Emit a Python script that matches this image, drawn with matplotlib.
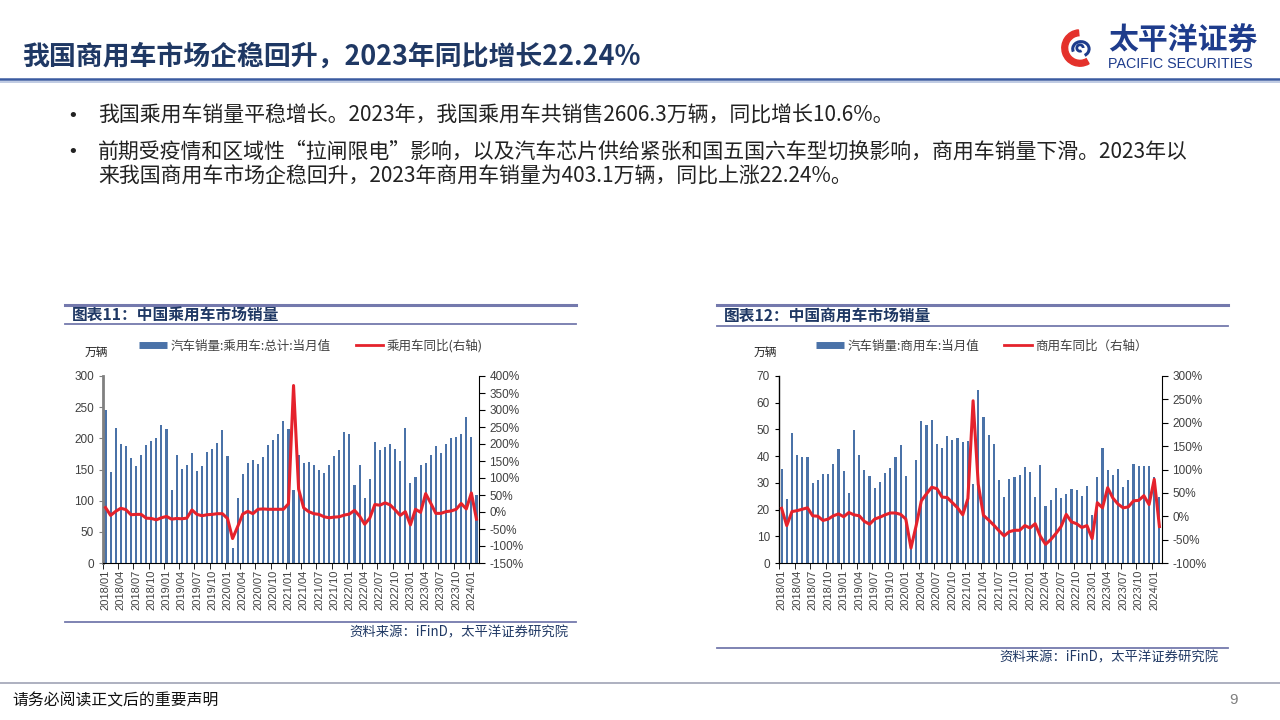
import matplotlib.pyplot as plt
from matplotlib.lines import Line2D
from matplotlib.patches import Arc, Wedge

plt.rcParams['font.family'] = ['Noto Sans CJK SC', 'DejaVu Sans']

# ---- data (万辆, 同比%) 2018/01 - 2024/02 ----
tick_labels = ['2018/01', '2018/04', '2018/07', '2018/10', '2019/01', '2019/04', '2019/07',
               '2019/10', '2020/01', '2020/04', '2020/07', '2020/10', '2021/01', '2021/04',
               '2021/07', '2021/10', '2022/01', '2022/04', '2022/07', '2022/10', '2023/01',
               '2023/04', '2023/07', '2023/10', '2024/01']

pv_sales = [245, 146.5, 216, 191, 188, 168, 155, 173, 189, 195, 201, 221,
            215, 117, 174, 151, 157, 176, 148, 156, 178, 183, 192, 213,
            172, 24, 104, 142, 160, 165, 159, 170, 190, 198, 207, 228,
            215, 117, 174, 160, 162, 157, 149, 144, 157, 171, 181, 210,
            207, 125, 157, 104, 135, 194, 181, 186, 191, 183, 164, 216,
            128, 138, 158, 161, 173, 188, 176, 191, 201, 202, 207, 235,
            202, 109]
pv_yoy = [13, -10, 2, 11, 7, -8, -7, -7, -18, -19, -23, -17,
          -13, -21, -19, -20, -18, 6, -7, -11, -8, -7, -5, -5,
          -19, -78, -43, -6, 2, -5, 8, 9, 8, 8, 8, 8,
          24, 372, 67, 12, 1, -5, -7, -14, -17, -15, -14, -9,
          -6, 5, -12, -36, -18, 22, 20, 27, 21, 6, -10, 1,
          -38, 8, -1, 54, 26, -4, -4, 1, 3, 8, 25, 9,
          56, -21]

cv_sales = [35.2, 24.0, 48.7, 40.3, 39.7, 39.7, 29.8, 31.2, 33.2, 33.2, 37.2, 42.7,
            34.5, 26.1, 49.8, 40.4, 35.0, 32.7, 28.0, 30.3, 33.8, 35.5, 39.8, 44.3,
            32.5, 5.5, 38.6, 53.2, 51.7, 53.4, 44.4, 42.9, 47.4, 46.2, 46.9, 45.3,
            45.6, 29.6, 64.9, 54.6, 47.9, 44.4, 31.1, 24.6, 31.5, 32.3, 32.8, 36.1,
            34.2, 24.8, 36.7, 21.3, 23.6, 28.0, 24.4, 25.7, 27.8, 27.2, 25.2, 28.9,
            17.9, 32.1, 43.2, 34.7, 32.8, 35.3, 28.6, 30.9, 36.9, 36.3, 36.3, 36.2,
            32.1, 24.8]
cv_yoy = [17, -20, 10, 12, 15, 18, 1, 0, -9, -6, 1, 5,
          -1, 8, 3, 1, -11, -17, -6, -2, 3, 7, 7, 4,
          -6, -68, -20, 33, 48, 62, 59, 41, 40, 29, 18, 3,
          38, 247, 68, 2, -8, -19, -31, -42, -33, -30, -30, -20,
          -25, -16, -43, -60, -50, -37, -22, 4, -12, -16, -24, -20,
          -48, 29, 18, 61, 39, 26, 18, 20, 33, 34, 44, 25,
          79, -22]

W, H = 1280, 720
BAR = '#4A72A8'
RED = '#E5222C'
NAVY = '#1F3864'
PANEL = '#7479AD'
TXT = '#404040'


def fx(x):
    return x / W


def fy(y):
    return 1 - y / H


fig = plt.figure(figsize=(12.8, 7.2), dpi=100)


def hline(x0, x1, y, color, lw):
    fig.add_artist(Line2D([fx(x0), fx(x1)], [fy(y), fy(y)], transform=fig.transFigure,
                          color=color, lw=lw))


def draw_chart(rect, sales, yoy, ylim, ystep, rlim, rstep, labels, leg_xy, unit_xy, spine_c, spine_w):
    l, t, r, b = rect
    ax = fig.add_axes([fx(l), fy(b), (r - l) / W, (b - t) / H])
    idx = list(range(len(sales)))
    ax.bar(idx, sales, width=0.42, color=BAR, zorder=2)
    ax.set_xlim(-0.5, len(sales) - 0.5)
    ax.set_ylim(ylim[0], ylim[1])
    ax.set_yticks(range(ylim[0], ylim[1] + 1, ystep))
    ax.set_xticks(range(0, 73, 3), labels=tick_labels, rotation=90)
    ax.set_xticks([i - 0.5 for i in range(0, 73, 3)], minor=True)
    ax.tick_params(axis='x', which='major', length=0, pad=5, labelsize=8, labelcolor=TXT)
    ax.tick_params(axis='x', which='minor', length=4, direction='out')
    ax.tick_params(axis='y', length=3, direction='out', labelsize=8.5, labelcolor=TXT,
                   color=spine_c)
    for lab in ax.get_xticklabels() + ax.get_yticklabels():
        lab.set_family(['Liberation Sans', 'DejaVu Sans'])
    ax.spines['top'].set_visible(False)
    ax.spines['right'].set_visible(False)
    ax.spines['left'].set_color(spine_c)
    ax.spines['left'].set_linewidth(spine_w)
    ax.spines['bottom'].set_color('black')
    ax.patch.set_alpha(0)

    ax2 = ax.twinx()
    ax2.plot(idx, yoy, color=RED, lw=2.2, solid_joinstyle='round')
    ax2.set_ylim(rlim[0], rlim[1])
    rt = list(range(rlim[0], rlim[1] + 1, rstep))
    ax2.set_yticks(rt, labels=[f'{v}%' for v in rt])
    ax2.tick_params(axis='y', length=4, direction='out', labelsize=8.5, labelcolor=TXT)
    for lab in ax2.get_yticklabels():
        lab.set_family(['Liberation Sans', 'DejaVu Sans'])
    for s in ['top', 'left', 'bottom']:
        ax2.spines[s].set_visible(False)
    ax2.spines['right'].set_color('black')

    handles = [Line2D([], [], color=BAR, lw=5, solid_capstyle='butt'),
               Line2D([], [], color=RED, lw=2)]
    fig.legend(handles, labels, loc='center', bbox_to_anchor=(fx(leg_xy[0]), fy(leg_xy[1])),
               bbox_transform=fig.transFigure, ncol=2, frameon=False, fontsize=9,
               handlelength=2.2, handletextpad=0.3, columnspacing=2.0, labelcolor=TXT)
    fig.text(fx(unit_xy[0]), fy(unit_xy[1]), '万辆', fontsize=8.5, ha='center', va='center',
             color='#222222')
    return ax, ax2


# ---- header ----
fig.text(fx(22), fy(57), '我国商用车市场企稳回升，2023年同比增长22.24%', fontsize=19.4,
         fontweight='bold', color=NAVY, ha='left', va='center')
hline(0, 1280, 79, '#3A5BA0', 1.8)
hline(0, 1280, 81.5, '#B5C2DE', 1.2)

# logo
lax = fig.add_axes([fx(1060), fy(70), 40 / W, 44 / H])
lax.set_xlim(-1.1, 1.1)
lax.set_ylim(-1.2, 1.2)
lax.set_aspect('equal')
lax.axis('off')
lax.add_patch(Wedge((0, 0), 1.0, 95, 300, width=0.32, color='#E4312B'))
lax.add_patch(Arc((0.05, -0.05), 0.9, 0.8, angle=0, theta1=-60, theta2=200, color='#1E3C8C', lw=2.2))
lax.add_patch(Arc((0.0, 0.0), 0.35, 0.35, angle=0, theta1=0, theta2=300, color='#1E3C8C', lw=2))
fig.text(fx(1108), fy(41), '太平洋证券', fontsize=21.5, fontweight='bold', color='#1E3C8C',
         ha='left', va='center')
fig.text(fx(1108), fy(64), 'PACIFIC SECURITIES', fontsize=10.3, color='#1E3C8C',
         ha='left', va='center', family=['Liberation Sans', 'DejaVu Sans'])

# bullets
body = [(116, True, '我国乘用车销量平稳增长。2023年，我国乘用车共销售2606.3万辆，同比增长10.6%。'),
        (152, True, '前期受疫情和区域性“拉闸限电”影响，以及汽车芯片供给紧张和国五国六车型切换影响，商用车销量下滑。2023年以'),
        (177, False, '来我国商用车市场企稳回升，2023年商用车销量为403.1万辆，同比上涨22.24%。')]
for y, bullet, s in body:
    if bullet:
        fig.text(fx(67), fy(y), '\u2022', fontsize=13, color='#222222', ha='left', va='center',
                 family='DejaVu Sans')
    fig.text(fx(98), fy(y), s, fontsize=15.05, color='#222222', ha='left', va='center')

# ---- panel 1 ----
hline(65, 576, 305, PANEL, 2.2)
fig.text(fx(72), fy(315), '图表11：中国乘用车市场销量', fontsize=11.3, fontweight='bold',
         color=NAVY, ha='left', va='center')
hline(65, 576, 324, PANEL, 1.3)
draw_chart((103, 376, 479, 563), pv_sales, pv_yoy, (0, 300), 50, (-150, 400), 50,
           ['汽车销量:乘用车:总计:当月值', '乘用车同比(右轴)'], (311, 346), (96, 352),
           '#808080', 2.0)
hline(65, 576, 622, PANEL, 1.3)
fig.text(fx(568), fy(632), '资料来源：iFinD，太平洋证券研究院', fontsize=9.6, color=NAVY,
         ha='right', va='center')

# ---- panel 2 ----
hline(717, 1228, 305, PANEL, 2.2)
fig.text(fx(724), fy(316), '图表12：中国商用车市场销量', fontsize=11.3, fontweight='bold',
         color=NAVY, ha='left', va='center')
hline(717, 1228, 326, PANEL, 1.3)
draw_chart((779, 376, 1162, 563), cv_sales, cv_yoy, (0, 70), 10, (-100, 300), 50,
           ['汽车销量:商用车:当月值', '商用车同比（右轴）'], (982, 346), (765, 352),
           'black', 1.0)
hline(717, 1228, 648, PANEL, 1.3)
fig.text(fx(1218), fy(657), '资料来源：iFinD，太平洋证券研究院', fontsize=9.6, color=NAVY,
         ha='right', va='center')

# ---- footer ----
hline(0, 1280, 683, '#9FA3B5', 1.2)
fig.text(fx(12), fy(701), '请务必阅读正文后的重要声明', fontsize=11.4, color='#111111',
         ha='left', va='center')
fig.text(fx(1233), fy(700), '9', fontsize=11, color='#7F7F7F', ha='center', va='center',
         family=['Liberation Sans', 'DejaVu Sans'])

fig.savefig('out.png', dpi=100)
